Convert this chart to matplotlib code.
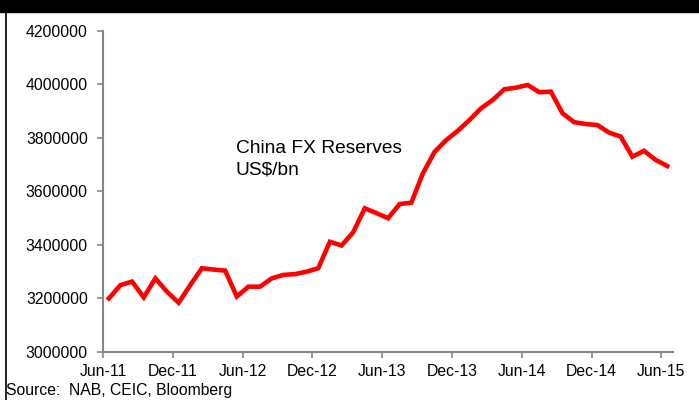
import matplotlib
matplotlib.use('Agg')
import matplotlib.pyplot as plt
from matplotlib.patches import Rectangle
from matplotlib.lines import Line2D

plt.rcParams['font.family'] = ['Liberation Sans', 'DejaVu Sans']

# China FX reserves, monthly from Jun-11 (US$ mn)
reserves = [3199000, 3249000, 3262000, 3203000, 3274000, 3224000, 3183000,
            3249000, 3312000, 3307000, 3303000, 3206000, 3243000, 3243000,
            3274000, 3287000, 3290000, 3299000, 3312000, 3411000, 3397000,
            3446000, 3536000, 3518000, 3499000, 3552000, 3557000, 3667000,
            3747000, 3791000, 3826000, 3866000, 3910000, 3941000, 3981000,
            3987000, 3997000, 3970000, 3972000, 3891000, 3858000, 3851000,
            3847000, 3819000, 3804000, 3729000, 3751000, 3717000, 3694000]
tick_labels = ['Jun-11', 'Dec-11', 'Jun-12', 'Dec-12', 'Jun-13',
               'Dec-13', 'Jun-14', 'Dec-14', 'Jun-15']
y_ticks = [3000000, 3200000, 3400000, 3600000, 3800000, 4000000, 4200000]

fig = plt.figure(figsize=(6.99, 4), dpi=100)
ax = fig.add_axes([0.1474, 0.1208, 0.8155, 0.8025])

x = [i + 0.5 for i in range(len(reserves))]
ax.plot(x, reserves, color='#ff0000', lw=3.3, solid_joinstyle='miter')

ax.set_xlim(0, len(reserves))
ax.set_ylim(3000000, 4200000)
ax.set_xticks(range(0, len(reserves), 6))
ax.set_xticklabels(tick_labels)
ax.set_yticks(y_ticks)
ax.set_yticklabels([str(v) for v in y_ticks])

for s in ['top', 'right']:
    ax.spines[s].set_visible(False)
for s in ['left', 'bottom']:
    ax.spines[s].set_color('#868686')
    ax.spines[s].set_linewidth(1.5)
ax.tick_params(colors='#868686', length=4, width=1.2, labelcolor='black',
               labelsize=11.3, direction='out')
ax.tick_params(axis='y', pad=7)
ax.tick_params(axis='x', pad=5)

ax.text(0.233, 0.60, 'China FX Reserves\nUS$/bn', transform=ax.transAxes,
        fontsize=13.8, va='center', ha='left', linespacing=1.35)

# black header bar and left border line
fig.patches.append(Rectangle((0, 0.97), 1, 0.03, transform=fig.transFigure,
                             color='black', zorder=5))
fig.lines.append(Line2D([0.008, 0.008], [0, 0.97], transform=fig.transFigure,
                        color='black', lw=1.2))

fig.text(0.008, 0.004, 'Source:  NAB, CEIC, Bloomberg', fontsize=11.3,
         ha='left', va='bottom')

fig.savefig('out.png', dpi=100)
